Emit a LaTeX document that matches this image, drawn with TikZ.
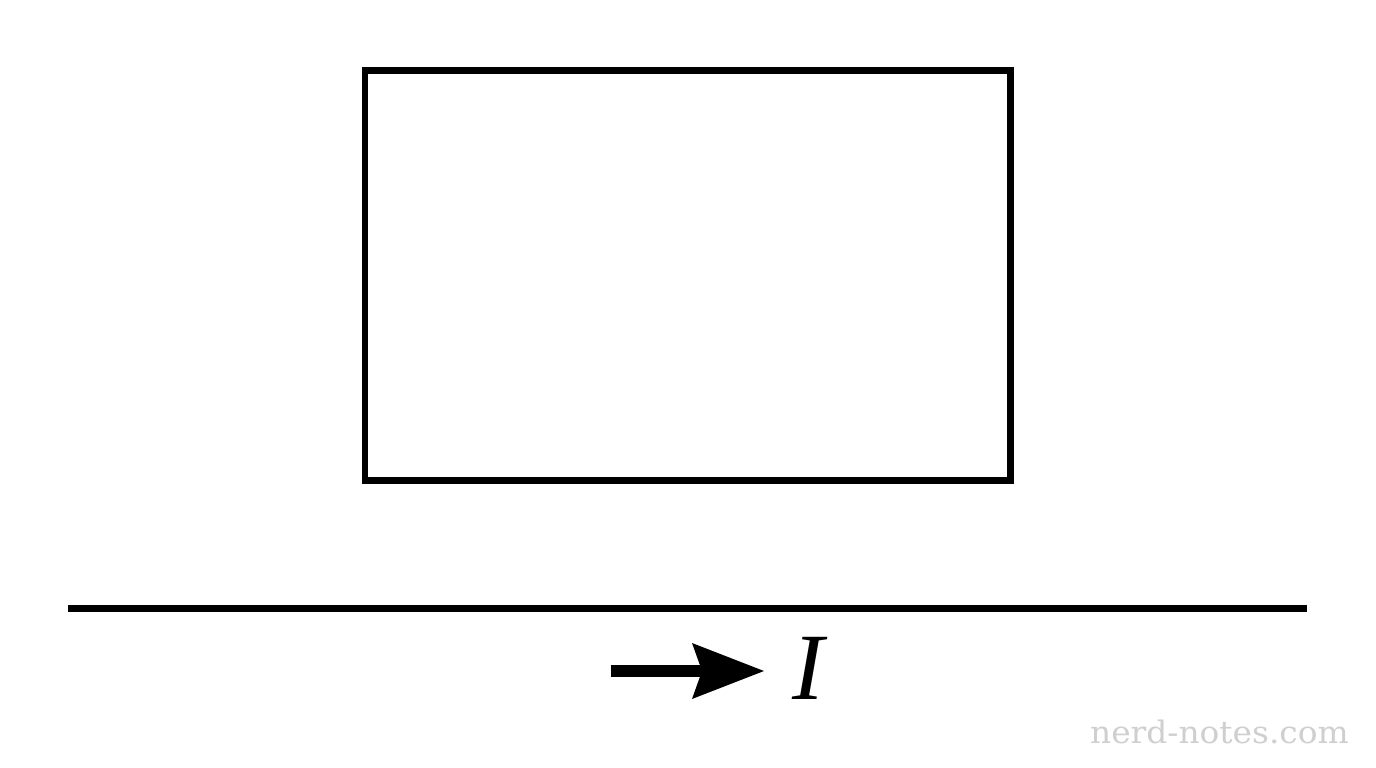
\documentclass[tikz,border=0pt]{standalone}
\usepackage{fontspec}
\newfontfamily\wmfont{DejaVu Serif}
\newfontfamily\lblfont{Liberation Serif}
\usetikzlibrary{arrows.meta}
\begin{document}
\begin{tikzpicture}[x=1pt,y=-1pt,
  frame/.style={draw=black,line width=6.7pt,line join=miter},
  wire/.style={draw=black,line width=7pt},
  currentarrow/.style={draw=black,line width=12pt,-{Stealth[length=72pt,width=56pt,inset=10pt,line width=0pt]}},
  watermark/.style={text=gray!38,font=\wmfont\fontsize{31}{31}\selectfont,inner sep=0pt,xscale=1.06}]
\useasboundingbox (0,0) rectangle (1376,768);
\fill[white] (0,0) rectangle (1376,768);
% loop
\draw[frame] (365,70.7) rectangle (1010.3,480.3);
% wire
\coordinate (wl) at (68,608);
\coordinate (wr) at (1307,608);
\draw[wire] (wl) -- (wr);
% current arrow
\coordinate (as) at (611,671);
\coordinate (ae) at (764,671);
\draw[currentarrow] (as) -- (ae);
\node[anchor=base west,inner sep=0pt] (lblI) at (792,699) {\lblfont\fontsize{95}{95}\selectfont\itshape I};
% watermark
\node[watermark,anchor=base east] (wm) at (1349,743) {nerd-notes.com};
\end{tikzpicture}
\end{document}
